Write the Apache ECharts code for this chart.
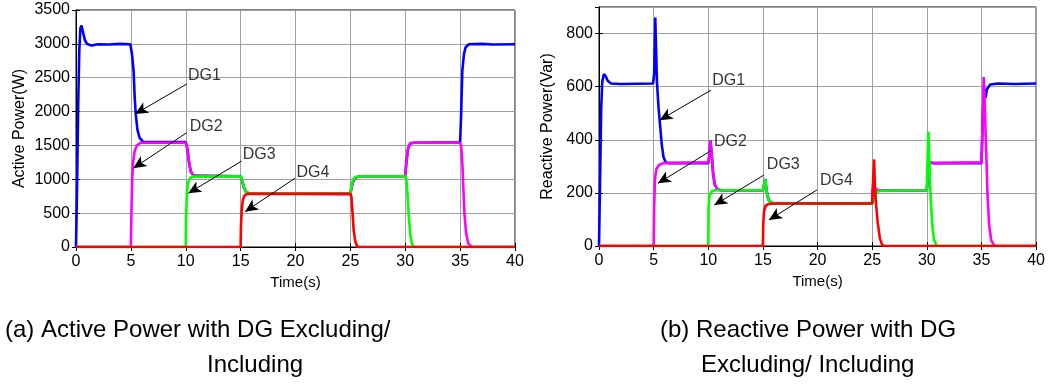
<!DOCTYPE html>
<html>
<head>
<meta charset="utf-8">
<script src="https://cdn.jsdelivr.net/npm/echarts@6/dist/echarts.min.js"></script>
<style>
  html, body { margin: 0; padding: 0; background: #fff; }
  #main { width: 1048px; height: 385px; }
</style>
</head>
<body>
<div id="main"></div>
<script>
// 数据：时间(s) 与功率读数
var xTicks = [0, 5, 10, 15, 20, 25, 30, 35, 40]
var yTicksActive = [0, 500, 1000, 1500, 2000, 2500, 3000, 3500]
var yTicksReactive = [0, 200, 400, 600, 800]
var dgNames = ['DG1', 'DG2', 'DG3', 'DG4']
var dgColors = ['#0000ff', '#ff00ff', '#00ff00', '#ff0000']

// (a) 有功功率 W
var activeDG1 = [[0, 0], [0.1, 900], [0.2, 2100], [0.3, 2900], [0.4, 3230], [0.5, 3270], [0.6, 3200], [0.8, 3060],
  [1.0, 3000], [1.4, 2975], [2, 2995], [3, 2990], [4, 3000], [4.95, 2995], [5.1, 2850], [5.25, 2600], [5.35, 2200],
  [5.45, 1950], [5.6, 1730], [5.8, 1610], [6.1, 1555], [10, 1550], [10.15, 1450], [10.3, 1250], [10.45, 1120],
  [10.65, 1065], [11, 1050], [15, 1045], [15.1, 1000], [15.3, 880], [15.5, 810], [15.8, 790], [25, 785],
  [25.1, 880], [25.3, 990], [25.6, 1035], [26, 1045], [30, 1045], [30.1, 1250], [30.25, 1450], [30.45, 1530],
  [30.8, 1540], [35, 1545], [35.1, 2000], [35.2, 2600], [35.35, 2850], [35.5, 2950], [35.8, 2995], [37, 3000],
  [38, 2990], [40, 2995]]
var activeDG2 = [[0, 0], [5.0, 0], [5.05, 500], [5.12, 1000], [5.2, 1250], [5.35, 1420], [5.55, 1500], [5.9, 1540],
  [10, 1540], [10.15, 1450], [10.3, 1250], [10.45, 1120], [10.65, 1065], [11, 1050], [15, 1045], [15.1, 1000],
  [15.3, 880], [15.5, 810], [15.8, 790], [25, 785], [25.1, 880], [25.3, 990], [25.6, 1035], [26, 1045], [30, 1045],
  [30.1, 1250], [30.25, 1450], [30.45, 1530], [30.8, 1540], [35, 1540], [35.1, 1480], [35.2, 1250], [35.3, 850],
  [35.4, 480], [35.55, 200], [35.75, 50], [36.1, 0], [40, 0]]
var activeDG3 = [[0, 0], [10, 0], [10.03, 400], [10.1, 800], [10.2, 950], [10.4, 1020], [10.7, 1040], [15, 1045],
  [15.1, 1000], [15.3, 880], [15.5, 810], [15.8, 790], [25, 790], [25.1, 900], [25.25, 1000], [25.5, 1035],
  [26, 1045], [30, 1045], [30.1, 1000], [30.2, 800], [30.3, 500], [30.45, 200], [30.6, 50], [30.8, 0], [40, 0]]
var activeDG4 = [[0, 0], [15, 0], [15.03, 300], [15.1, 550], [15.2, 690], [15.35, 760], [15.6, 785], [25, 785],
  [25.1, 740], [25.2, 500], [25.3, 250], [25.45, 80], [25.65, 0], [40, 0]]

// (b) 无功功率 Var
var reactiveDG1 = [[0, 0], [0.1, 250], [0.2, 520], [0.3, 620], [0.45, 648], [0.6, 640], [0.8, 622], [1.1, 612],
  [2, 610], [4.95, 612], [5.05, 650], [5.15, 860], [5.22, 750], [5.3, 620], [5.45, 520], [5.6, 450], [5.75, 380],
  [5.9, 335], [6.1, 315], [6.4, 312], [10, 312], [10.1, 340], [10.2, 398], [10.3, 350], [10.45, 270], [10.6, 230],
  [10.85, 213], [11.2, 210], [15, 210], [15.1, 230], [15.22, 252], [15.32, 210], [15.5, 175], [15.8, 162],
  [16.2, 160], [25, 160], [25.1, 230], [25.3, 215], [25.6, 208], [30, 210], [30.1, 270], [30.25, 315],
  [30.6, 312], [35, 312], [35.1, 450], [35.22, 600], [35.36, 556], [35.5, 590], [35.8, 608], [36.5, 612],
  [38, 610], [40, 612]]
var reactiveDG2 = [[0, 0], [5.0, 0], [5.05, 150], [5.12, 250], [5.25, 290], [5.5, 305], [5.9, 312], [10, 315],
  [10.1, 340], [10.2, 398], [10.3, 350], [10.45, 270], [10.6, 230], [10.85, 213], [11.2, 210], [15, 210],
  [15.1, 230], [15.22, 245], [15.35, 200], [15.6, 168], [16, 160], [25, 160], [25.1, 230], [25.3, 215],
  [25.6, 210], [30, 210], [30.1, 270], [30.25, 315], [30.6, 312], [35, 315], [35.1, 450], [35.2, 636],
  [35.28, 560], [35.4, 400], [35.55, 200], [35.7, 80], [35.9, 20], [36.2, 0], [40, 0]]
var reactiveDG3 = [[0, 0], [10, 0], [10.03, 150], [10.1, 190], [10.3, 205], [10.6, 210], [15, 210], [15.1, 230],
  [15.22, 252], [15.32, 210], [15.5, 175], [15.8, 162], [16.2, 160], [25, 160], [25.35, 195], [25.5, 205],
  [25.8, 208], [30, 210], [30.05, 300], [30.15, 430], [30.25, 300], [30.35, 180], [30.5, 80], [30.65, 25],
  [30.9, 0], [40, 0]]
var reactiveDG4 = [[0, 0], [15, 0], [15.03, 80], [15.1, 130], [15.25, 152], [15.5, 158], [16, 160], [25, 160],
  [25.1, 260], [25.18, 326], [25.25, 220], [25.35, 160], [25.5, 90], [25.7, 30], [25.9, 5], [26.1, 0], [40, 0]]

// 标注箭头：[起点t, 起点值, 箭头t, 箭头值]；文字位置 [t, 值]
var activeArrows = [[10.09, 2407, 5.38, 1964], [10.09, 1688, 5.22, 1162], [15.10, 1270, 10.23, 793], [19.95, 1015, 15.40, 521]]
var activeLabels = [[10.2, 2525], [10.36, 1777], [15.2, 1359], [20.08, 1103]]
var reactiveArrows = [[10.25, 587, 5.55, 474], [10.25, 359, 5.39, 236], [15.09, 267, 10.55, 154], [19.94, 211, 15.55, 98]]
var reactiveLabels = [[10.36, 622], [10.52, 393], [15.36, 305], [20.22, 246]]

var font = 'Liberation Sans, Arial, sans-serif'

var chart = echarts.init(document.getElementById('main'))

function plain(v) { return String(v) }

function bottomAxis(gridIndex, gap) {
  return {
    type: 'value', gridIndex: gridIndex, min: 0, max: 40, interval: 5,
    name: 'Time(s)', nameLocation: 'middle', nameGap: gap,
    nameTextStyle: { fontFamily: font, fontSize: 15, color: '#000' },
    axisLine: { show: true, lineStyle: { color: '#000', width: 1 } },
    axisTick: { show: true, inside: true, length: 4, lineStyle: { color: '#000' } },
    axisLabel: { fontFamily: font, fontSize: 16, color: '#000', margin: 7, formatter: plain },
    splitLine: { show: true, lineStyle: { color: '#a0a0a0', width: 1 } }
  }
}
function topAxis(gridIndex) {
  return {
    type: 'value', gridIndex: gridIndex, position: 'top', min: 0, max: 40, interval: 5,
    axisLine: { show: true, lineStyle: { color: '#000', width: 1 } },
    axisTick: { show: true, inside: true, length: 4, lineStyle: { color: '#000' } },
    axisLabel: { show: false }, splitLine: { show: false }
  }
}
function leftAxis(gridIndex, max, interval, name, gap) {
  return {
    type: 'value', gridIndex: gridIndex, min: 0, max: max, interval: interval,
    name: name, nameLocation: 'middle', nameGap: gap,
    nameTextStyle: { fontFamily: font, fontSize: 16, color: '#000' },
    axisLine: { show: true, lineStyle: { color: '#000', width: 1 } },
    axisTick: { show: true, inside: true, length: 4, lineStyle: { color: '#000' } },
    axisLabel: { fontFamily: font, fontSize: 16, color: '#000', margin: 6, formatter: plain,
      showMaxLabel: max % interval === 0 },
    splitLine: { show: true, lineStyle: { color: '#a0a0a0', width: 1 } }
  }
}
function rightAxis(gridIndex, max, interval) {
  return {
    type: 'value', gridIndex: gridIndex, position: 'right', min: 0, max: max, interval: interval,
    axisLine: { show: true, lineStyle: { color: '#000', width: 1 } },
    axisTick: { show: true, inside: true, length: 4, lineStyle: { color: '#000' } },
    axisLabel: { show: false }, splitLine: { show: false }
  }
}

function curve(data, idx, axis) {
  return {
    type: 'line', xAxisIndex: axis, yAxisIndex: axis, data: data, name: dgNames[idx],
    showSymbol: false, symbol: 'none', animation: false,
    lineStyle: { color: dgColors[idx], width: 2.6 }, itemStyle: { color: dgColors[idx] }
  }
}
function arrowSeries(arrows, axis) {
  return {
    type: 'line', xAxisIndex: axis, yAxisIndex: axis, data: [], animation: false, z: 5,
    markLine: {
      silent: true, animation: false, symbol: ['none', 'arrow'], symbolSize: [9, 13],
      label: { show: false },
      lineStyle: { color: '#000', width: 1, type: 'solid' },
      data: arrows.map(function (a) {
        return [{ coord: [a[0], a[1]] }, { coord: [a[2], a[3]] }]
      })
    }
  }
}
function labelSeries(labels, axis) {
  return {
    type: 'scatter', xAxisIndex: axis, yAxisIndex: axis, symbolSize: 0, animation: false, z: 5,
    data: labels.map(function (p, i) { return { value: p, name: dgNames[i] } }),
    label: { show: true, position: 'right', distance: 0, formatter: '{b}', fontFamily: font, fontSize: 16, color: '#000' }
  }
}

var option = {
  backgroundColor: '#fff',
  animation: false,
  grid: [
    { left: 76, top: 10, width: 439, height: 237, show: true, borderColor: '#000', borderWidth: 1, backgroundColor: '#fff' },
    { left: 599, top: 7, width: 440, height: 239, show: true, borderColor: '#000', borderWidth: 1, backgroundColor: '#fff' }
  ],
  xAxis: [bottomAxis(0, 26), bottomAxis(1, 27), topAxis(0), topAxis(1)],
  yAxis: [
    leftAxis(0, 3500, 500, 'Active Power(W)', 48),
    leftAxis(1, 900, 200, 'Reactive Power(Var)', 43),
    rightAxis(0, 3500, 500), rightAxis(1, 900, 200)
  ],
  series: [
    curve(activeDG1, 0, 0), curve(activeDG2, 1, 0), curve(activeDG3, 2, 0), curve(activeDG4, 3, 0),
    curve(reactiveDG1, 0, 1), curve(reactiveDG2, 1, 1), curve(reactiveDG3, 2, 1), curve(reactiveDG4, 3, 1),
    arrowSeries(activeArrows, 0), arrowSeries(reactiveArrows, 1),
    labelSeries(activeLabels, 0), labelSeries(reactiveLabels, 1)
  ],
  graphic: [
    { type: 'text', left: 5, top: 318, style: { text: '(a) Active Power with DG Excluding/', font: '24px ' + font, fill: '#000' } },
    { type: 'text', left: 207, top: 353, style: { text: 'Including', font: '24px ' + font, fill: '#000' } },
    { type: 'text', left: 660, top: 318, style: { text: '(b) Reactive Power with DG', font: '24px ' + font, fill: '#000' } },
    { type: 'text', left: 701, top: 353, style: { text: 'Excluding/ Including', font: '24px ' + font, fill: '#000' } }
  ]
}

chart.setOption(option)
</script>
</body>
</html>
